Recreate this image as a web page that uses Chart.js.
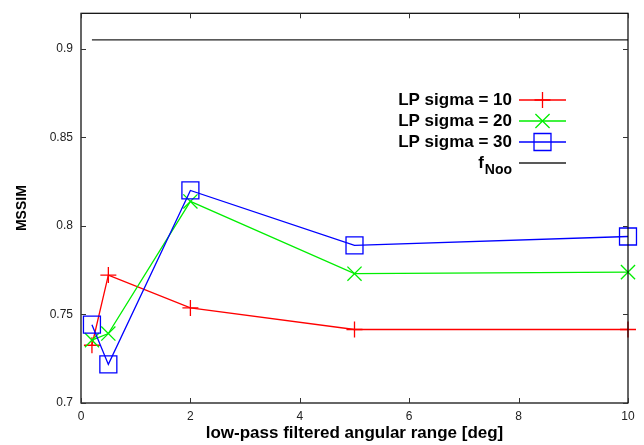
<!DOCTYPE html>
<html>
<head>
<meta charset="utf-8">
<script src="https://cdn.jsdelivr.net/npm/chart.js@4/dist/chart.umd.min.js"></script>
<style>
  html, body { margin: 0; padding: 0; background: #fff; }
  canvas { display: block; }
</style>
</head>
<body>
<canvas id="chart" width="644" height="445"></canvas>
<script>
// datos
const xValues = [0.2, 0.5, 2, 5, 10];
const sigma10 = [0.7326, 0.7722, 0.7537, 0.7415, 0.7415];
const sigma20 = [0.7355, 0.7392, 0.8138, 0.7730, 0.7739];
const sigma30 = [0.7442, 0.7218, 0.8200, 0.7890, 0.7940];
const fNooX = [0.2, 10];
const fNooY = [0.905, 0.905];
const seriesNames = ["LP sigma = 10", "LP sigma = 20", "LP sigma = 30"];
const fNooName = "f";
const fNooSub = "Noo";
const xTicks = [0, 2, 4, 6, 8, 10];
const yTicks = [0.7, 0.75, 0.8, 0.85, 0.9];

const FONT = "'Liberation Sans', Arial, Helvetica, sans-serif";

function toPoints(xs, ys) {
    return xs.map((x, i) => ({ x: x, y: ys[i] }));
}

// Marcas hacia dentro y marco del gráfico (estilo gnuplot)
const framePlugin = {
    id: "frame",
    afterDatasetsDraw(chart) {
        const ctx = chart.ctx;
        const a = chart.chartArea;
        const xs = chart.scales.x;
        const ys = chart.scales.y;
        const len = 5;
        ctx.save();
        ctx.strokeStyle = "#000";
        ctx.lineWidth = 1.2;
        ctx.strokeRect(a.left, a.top, a.right - a.left, a.bottom - a.top);
        ctx.lineWidth = 1;
        ctx.strokeStyle = "#333";
        ctx.beginPath();
        xTicks.forEach(v => {
            const px = Math.round(xs.getPixelForValue(v)) + 0.5;
            ctx.moveTo(px, a.bottom); ctx.lineTo(px, a.bottom - len);
            ctx.moveTo(px, a.top); ctx.lineTo(px, a.top + len);
        });
        yTicks.forEach(v => {
            const py = Math.round(ys.getPixelForValue(v)) + 0.5;
            ctx.moveTo(a.left, py); ctx.lineTo(a.left + len, py);
            ctx.moveTo(a.right, py); ctx.lineTo(a.right - len, py);
        });
        ctx.stroke();
        ctx.restore();
    }
};

// Leyenda dentro del área, texto alineado a la derecha
const legendPlugin = {
    id: "insideLegend",
    afterDraw(chart) {
        const ctx = chart.ctx;
        const textRight = 512;
        const x0 = 519, x1 = 566;
        const rows = [100, 121, 142, 163];
        ctx.save();
        ctx.textAlign = "right";
        ctx.textBaseline = "middle";
        chart.data.datasets.forEach((ds, i) => {
            const y = rows[i];
            ctx.fillStyle = "#000";
            ctx.font = "bold 17px " + FONT;
            if (i < seriesNames.length) {
                ctx.fillText(seriesNames[i], textRight, y);
            } else {
                ctx.font = "bold 14px " + FONT;
                const subW = ctx.measureText(fNooSub).width;
                ctx.fillText(fNooSub, textRight, y + 7);
                ctx.font = "bold 17px " + FONT;
                ctx.fillText(fNooName, textRight - subW - 1, y);
            }
            ctx.strokeStyle = ds.borderColor;
            ctx.lineWidth = ds.borderWidth;
            ctx.beginPath();
            ctx.moveTo(x0, y);
            ctx.lineTo(x1, y);
            ctx.stroke();
            if (ds.pointRadius > 0) {
                ctx.fillStyle = "rgba(0,0,0,0)";
                ctx.strokeStyle = ds.borderColor;
                ctx.lineWidth = ds.pointBorderWidth;
                Chart.helpers.drawPoint(ctx, {
                    pointStyle: ds.pointStyle,
                    radius: ds.pointRadius,
                    rotation: 0,
                    borderWidth: ds.pointBorderWidth
                }, (x0 + x1) / 2, y);
            }
        });
        ctx.restore();
    }
};

new Chart(document.getElementById("chart"), {
    type: "scatter",
    data: {
        datasets: [
            {
                label: seriesNames[0],
                data: toPoints(xValues, sigma10),
                showLine: true,
                borderColor: "#ff0000",
                backgroundColor: "rgba(0,0,0,0)",
                borderWidth: 1.3,
                pointStyle: "cross",
                pointRadius: 8,
                pointBorderWidth: 1.3,
                clip: false,
                order: 2
            },
            {
                label: seriesNames[1],
                data: toPoints(xValues, sigma20),
                showLine: true,
                borderColor: "#00ee00",
                backgroundColor: "rgba(0,0,0,0)",
                borderWidth: 1.3,
                pointStyle: "crossRot",
                pointRadius: 10,
                pointBorderWidth: 1.3,
                clip: false,
                order: 1
            },
            {
                label: seriesNames[2],
                data: toPoints(xValues, sigma30),
                showLine: true,
                borderColor: "#0000ff",
                backgroundColor: "rgba(0,0,0,0)",
                borderWidth: 1.3,
                pointStyle: "rect",
                pointRadius: 12,
                pointBorderWidth: 1.3,
                clip: false,
                order: 0
            },
            {
                label: fNooName + fNooSub,
                data: toPoints(fNooX, fNooY),
                showLine: true,
                borderColor: "#222222",
                backgroundColor: "rgba(0,0,0,0)",
                borderWidth: 1.3,
                pointRadius: 0,
                pointBorderWidth: 0,
                clip: false,
                order: 3
            }
        ]
    },
    options: {
        responsive: false,
        animation: false,
        devicePixelRatio: 1,
        layout: { padding: { left: 0, top: 11, right: 16, bottom: 0 } },
        plugins: {
            legend: { display: false },
            tooltip: { enabled: false }
        },
        scales: {
            x: {
                type: "linear",
                min: 0,
                max: 10,
                afterBuildTicks: s => { s.ticks = xTicks.map(v => ({ value: v })); },
                afterFit: s => { s.height = 42; s.paddingLeft = 0; s.paddingRight = 0; },
                grid: { display: false, drawTicks: false, tickLength: 0 },
                border: { display: false },
                ticks: {
                    padding: 6,
                    color: "#222",
                    font: { family: FONT, size: 12 },
                    maxRotation: 0
                },
                title: {
                    display: true,
                    text: "low-pass filtered angular range [deg]",
                    color: "#000",
                    font: { family: FONT, size: 17, weight: "bold" },
                    padding: { top: 0, bottom: 1 }
                }
            },
            y: {
                type: "linear",
                min: 0.7,
                max: 0.92,
                afterBuildTicks: s => { s.ticks = yTicks.map(v => ({ value: v })); },
                afterFit: s => { s.width = 81; s.paddingTop = 0; s.paddingBottom = 0; },
                grid: { display: false, drawTicks: false, tickLength: 0 },
                border: { display: false },
                ticks: {
                    padding: 8,
                    color: "#222",
                    font: { family: FONT, size: 12 },
                    callback: v => String(v)
                },
                title: {
                    display: true,
                    text: "MSSIM",
                    color: "#000",
                    font: { family: FONT, size: 14, weight: "bold" },
                    padding: { top: 14, bottom: 0 }
                }
            }
        }
    },
    plugins: [framePlugin, legendPlugin]
});
</script>
</body>
</html>
